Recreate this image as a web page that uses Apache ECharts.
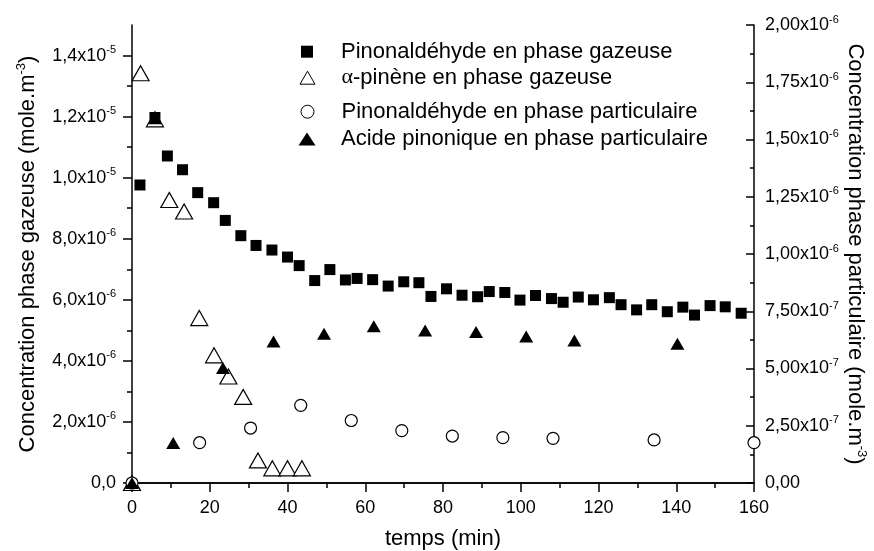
<!DOCTYPE html>
<html>
<head>
<meta charset="utf-8">
<script src="https://cdn.jsdelivr.net/npm/echarts@6/dist/echarts.min.js"></script>
<style>
  html, body { margin: 0; padding: 0; background: #fff; }
  #chart { width: 874px; height: 551px; }
</style>
</head>
<body>
<div id="chart"></div>
<script>
// temps (min) et concentrations
// phase gazeuse en 10^-6 mole.m-3, phase particulaire en 10^-7 mole.m-3
const pinGazT = [2.05, 5.9, 9.1, 13.0, 16.9, 21.0, 24.0, 28.0, 31.9, 36.0, 40.0, 43.0, 47.0, 50.9, 54.9, 57.9, 61.9, 65.9, 69.9, 73.8, 76.9, 80.9, 84.9, 88.9, 91.9, 95.9, 99.8, 103.8, 107.9, 110.9, 114.8, 118.7, 122.8, 125.8, 129.8, 133.7, 137.7, 141.7, 144.7, 148.7, 152.6, 156.7];
const pinGazV = [9.76, 11.97, 10.71, 10.26, 9.51, 9.18, 8.60, 8.10, 7.78, 7.63, 7.40, 7.12, 6.63, 6.99, 6.65, 6.70, 6.66, 6.45, 6.59, 6.56, 6.11, 6.36, 6.15, 6.10, 6.27, 6.24, 5.99, 6.14, 6.04, 5.92, 6.09, 6.00, 6.07, 5.84, 5.67, 5.84, 5.61, 5.76, 5.50, 5.81, 5.77, 5.56];

const pineneT = [0, 2.2, 5.9, 9.6, 13.4, 17.3, 21.1, 24.8, 28.6, 32.4, 36.1, 40.0, 43.7];
const pineneV = [0, 13.42, 11.91, 9.27, 8.89, 5.40, 4.18, 3.49, 2.82, 0.74, 0.48, 0.48, 0.48];

const pinPartT = [0, 17.4, 30.5, 43.4, 56.4, 69.4, 82.4, 95.4, 108.3, 134.3, 160];
const pinPartV = [0, 1.76, 2.40, 3.39, 2.73, 2.29, 2.05, 1.98, 1.95, 1.88, 1.76];

const acideT = [0, 5.9, 10.6, 23.4, 36.4, 49.4, 62.2, 75.4, 88.5, 101.4, 113.8, 140.3];
const acideV = [0, 15.93, 1.75, 5.02, 6.18, 6.52, 6.84, 6.66, 6.59, 6.40, 6.22, 6.08];

const seriesNames = [
  'Pinonaldéhyde en phase gazeuse',
  'α-pinène en phase gazeuse',
  'Pinonaldéhyde en phase particulaire',
  'Acide pinonique en phase particulaire',
];

// graduations
const leftTicks = [0, 2, 4, 6, 8, 10, 12, 14];
const leftMinor = [1, 3, 5, 7, 9, 11, 13];
const leftLabels = ['0,0', '2,0x10{s|-6}', '4,0x10{s|-6}', '6,0x10{s|-6}', '8,0x10{s|-6}', '1,0x10{s|-5}', '1,2x10{s|-5}', '1,4x10{s|-5}'];
const rightTicks = [0, 2.5, 5, 7.5, 10, 12.5, 15, 17.5, 20];
const rightLabels = ['0,00', '2,50x10{s|-7}', '5,00x10{s|-7}', '7,50x10{s|-7}', '1,00x10{s|-6}', '1,25x10{s|-6}', '1,50x10{s|-6}', '1,75x10{s|-6}', '2,00x10{s|-6}'];

const FONT = 'Liberation Sans';
const zip = (a, b) => a.map((x, i) => [x, b[i]]);

const labelRich = {
  s: { fontSize: 11, fontFamily: FONT, color: '#000', verticalAlign: 'top', lineHeight: 11 },
};
const nameRich = {
  s: { fontSize: 13, fontFamily: FONT, color: '#000', verticalAlign: 'top', lineHeight: 13 },
};

let chart = echarts.init(document.getElementById('chart'), null, { renderer: 'canvas' });

const line = { show: true, lineStyle: { color: '#000', width: 1.5 } };

function legendFor(name, top, w, h, itemStyle) {
  return {
    left: 307 - w / 2,
    top: top,
    padding: 0,
    orient: 'vertical',
    itemWidth: w,
    itemHeight: h,
    data: [name],
    itemStyle: itemStyle,
    selectedMode: false,
    formatter: n => n.replace('α', '{g|α}'),
    textStyle: {
      fontFamily: FONT,
      fontSize: 22,
      color: '#000',
      padding: [0, 0, 0, 336 - (307 + w / 2)],
      rich: { g: { fontFamily: 'Liberation Serif', fontSize: 22, color: '#000' } },
    },
  };
}

let option = {
  backgroundColor: '#fff',
  animation: false,
  grid: { left: 132, right: 120, top: 25, bottom: 68, outerBoundsMode: 'none', containLabel: false },
  legend: [
    legendFor(seriesNames[0], 40.7, 12, 12, { color: '#000', opacity: 1 }),
    legendFor(seriesNames[1], 66.7, 15, 13, { color: '#fff', borderColor: '#000', borderWidth: 1, opacity: 1 }),
    legendFor(seriesNames[2], 100.7, 13, 13, { color: '#fff', borderColor: '#000', borderWidth: 1, opacity: 1 }),
    legendFor(seriesNames[3], 128, 17, 13, { color: '#000', opacity: 1 }),
  ],
  xAxis: [
    {
      type: 'value',
      min: 0,
      max: 160,
      interval: 20,
      name: 'temps (min)',
      nameLocation: 'middle',
      nameGap: 45,
      nameTextStyle: { fontFamily: FONT, fontSize: 22, color: '#000' },
      axisLine: line,
      axisTick: { show: true, length: 9, lineStyle: { color: '#000', width: 1.5 } },
      minorTick: { show: true, splitNumber: 2, length: 5, lineStyle: { color: '#000', width: 1.5 } },
      axisLabel: { fontFamily: FONT, fontSize: 18, color: '#000', margin: 16 },
      splitLine: { show: false },
    },
    {
      type: 'value',
      position: 'top',
      min: 0,
      max: 160,
      interval: 20,
      axisLine: line,
      axisTick: { show: true, inside: true, length: 9, lineStyle: { color: '#000', width: 1.5 } },
      minorTick: { show: true, splitNumber: 2, length: 5, lineStyle: { color: '#000', width: 1.5 } },
      axisLabel: { show: false },
      splitLine: { show: false },
    },
  ],
  yAxis: [
    {
      type: 'value',
      position: 'left',
      min: 0,
      max: 15,
      interval: 1,
      name: 'Concentration phase gazeuse (mole.m{s|-3})',
      nameLocation: 'middle',
      nameGap: 91,
      nameTextStyle: { fontFamily: FONT, fontSize: 22, color: '#000', lineHeight: 26, rich: nameRich },
      axisLine: line,
      axisTick: { show: true, length: 9, customValues: leftTicks, lineStyle: { color: '#000', width: 1.5 } },
      axisLabel: {
        customValues: leftTicks,
        fontFamily: FONT,
        fontSize: 18,
        color: '#000',
        lineHeight: 22,
        margin: 16,
        rich: labelRich,
        formatter: v => {
          const i = leftTicks.indexOf(v);
          return i < 0 ? '' : leftLabels[i];
        },
      },
      splitLine: { show: false },
    },
    {
      type: 'value',
      position: 'left',
      min: 0,
      max: 15,
      interval: 1,
      axisLine: { show: false },
      axisTick: { show: true, length: 5, customValues: leftMinor, lineStyle: { color: '#000', width: 1.5 } },
      axisLabel: { show: false },
      splitLine: { show: false },
    },
    {
      type: 'value',
      position: 'right',
      min: 0,
      max: 20,
      interval: 2.5,
      name: 'Concentration phase particulaire (mole.m{s|-3})',
      nameLocation: 'middle',
      nameRotate: -90,
      nameGap: 88,
      nameMoveOverlap: false,
      nameTextStyle: { fontFamily: FONT, fontSize: 22, color: '#000', lineHeight: 26, rich: nameRich },
      axisLine: line,
      axisTick: { show: true, inside: true, length: 8, lineStyle: { color: '#000', width: 1.5 } },
      minorTick: { show: true, splitNumber: 2, length: 4, lineStyle: { color: '#000', width: 1.5 } },
      axisLabel: {
        fontFamily: FONT,
        fontSize: 18,
        color: '#000',
        lineHeight: 22,
        margin: 11,
        rich: labelRich,
        formatter: v => {
          const i = rightTicks.indexOf(v);
          return i < 0 ? '' : rightLabels[i];
        },
      },
      splitLine: { show: false },
    },
  ],
  series: [
    {
      name: seriesNames[0],
      type: 'scatter',
      yAxisIndex: 0,
      symbol: 'rect',
      symbolSize: 11,
      clip: false,
      itemStyle: { color: '#000', opacity: 1 },
      data: zip(pinGazT, pinGazV),
    },
    {
      name: seriesNames[1],
      type: 'scatter',
      yAxisIndex: 0,
      symbol: 'triangle',
      symbolSize: [17, 15],
      clip: false,
      itemStyle: { color: '#fff', borderColor: '#000', borderWidth: 1.2, opacity: 1 },
      data: zip(pineneT, pineneV),
    },
    {
      name: seriesNames[2],
      type: 'scatter',
      yAxisIndex: 2,
      symbol: 'circle',
      symbolSize: 12,
      clip: false,
      itemStyle: { color: '#fff', borderColor: '#000', borderWidth: 1.2, opacity: 1 },
      data: zip(pinPartT, pinPartV),
    },
    {
      name: seriesNames[3],
      type: 'scatter',
      yAxisIndex: 2,
      symbol: 'triangle',
      symbolSize: [14, 12],
      clip: false,
      z: 3,
      itemStyle: { color: '#000', opacity: 1 },
      data: zip(acideT, acideV),
    },
  ],
};

chart.setOption(option);
</script>
</body>
</html>
